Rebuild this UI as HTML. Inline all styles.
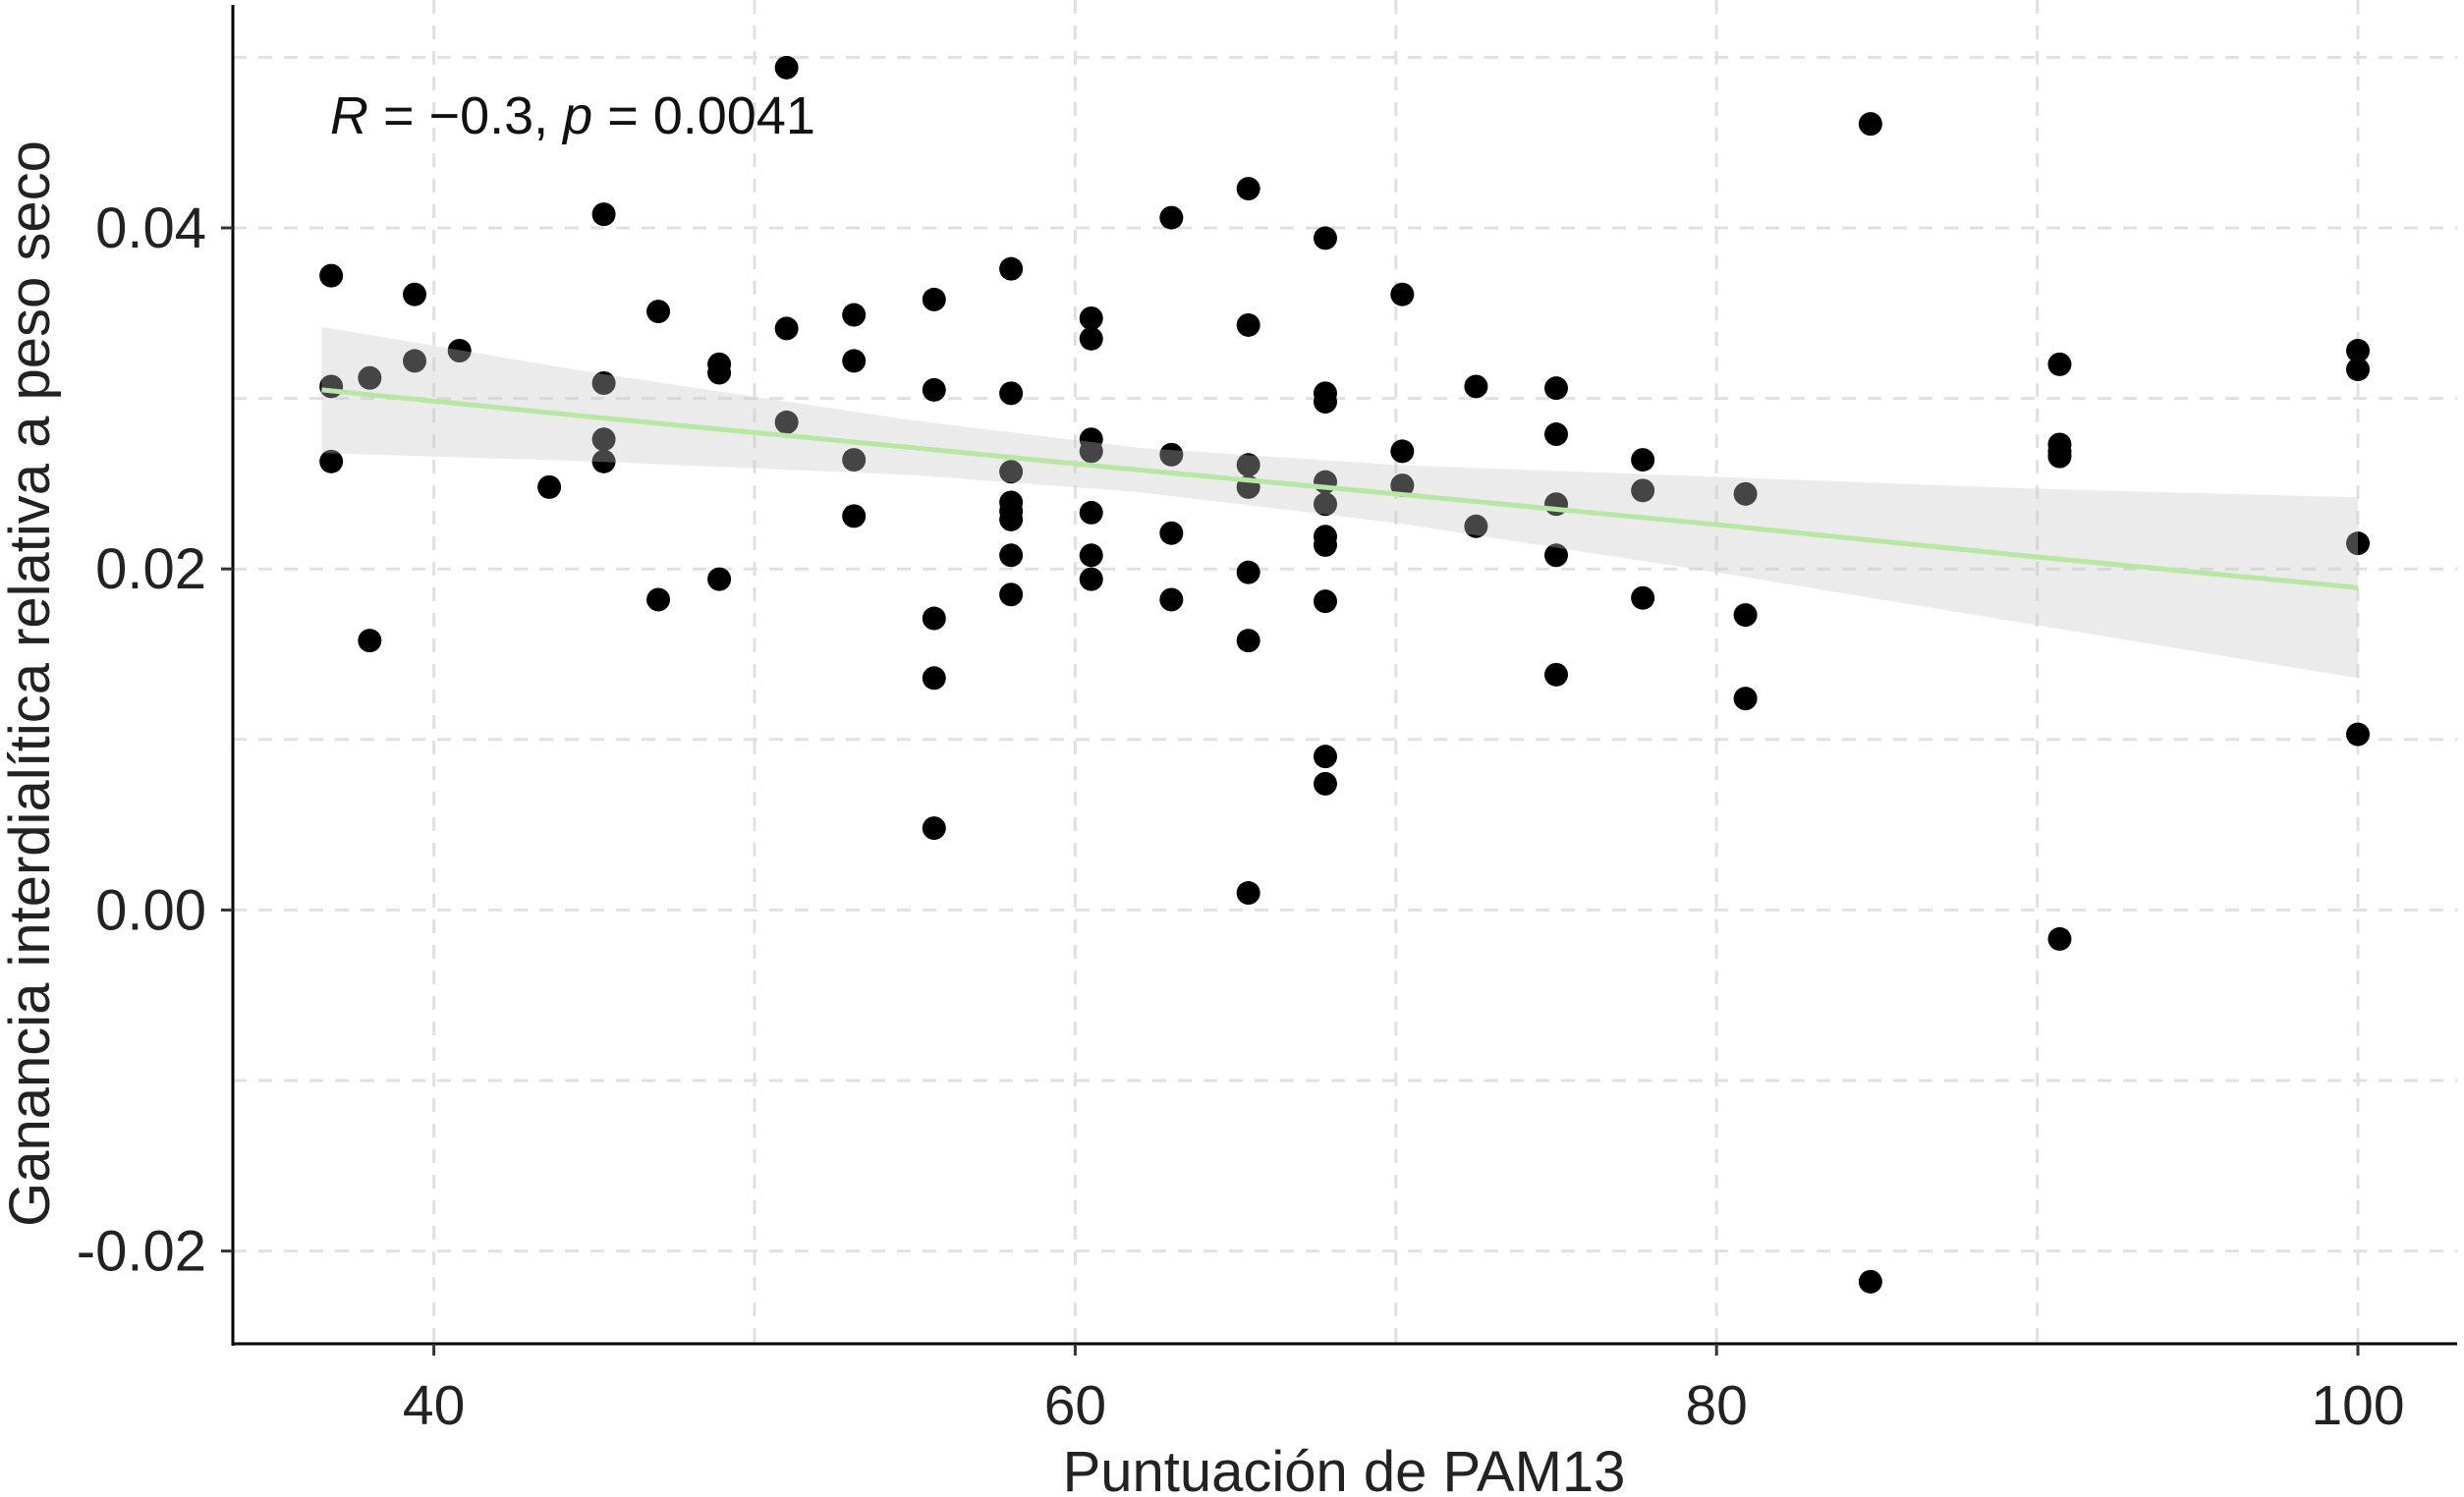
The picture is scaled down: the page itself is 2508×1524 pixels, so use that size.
<!DOCTYPE html>
<html><head><meta charset="utf-8"><style>
html,body{margin:0;padding:0;background:#fff;}
svg{display:block;font-family:"Liberation Sans",sans-serif;}
</style></head><body>
<svg id="chart" width="2508" height="1524" viewBox="0 0 2508 1524" xmlns="http://www.w3.org/2000/svg">
<g id="grid"></g>
<g id="points"></g>
<g id="fit"></g>
<g id="axes"></g>
<text x="336" y="136" font-size="54" fill="#111"><tspan font-style="italic">R</tspan> = −0.3, <tspan font-style="italic">p</tspan> = 0.0041</text>
<text x="1368" y="1518" font-size="58" text-anchor="middle" fill="#222">Puntuación de PAM13</text>
<text transform="translate(50,696) rotate(-90)" font-size="58" text-anchor="middle" fill="#222">Ganancia interdialítica relativa a peso seco</text>
</svg>
<script>
const xVals=[36.8,36.8,36.8,38,38,39.4,39.4,40.8,43.6,45.3,45.3,45.3,45.3,47,47,48.9,48.9,48.9,51,51,51,53.1,53.1,53.1,53.1,55.6,55.6,55.6,55.6,55.6,58,58,58,58,58,58,58,58,60.5,60.5,60.5,60.5,60.5,60.5,60.5,63,63,63,63,65.4,65.4,65.4,65.4,65.4,65.4,65.4,67.8,67.8,67.8,67.8,67.8,67.8,67.8,67.8,67.8,67.8,70.2,70.2,70.2,72.5,72.5,75,75,75,75,75,77.7,77.7,77.7,80.9,80.9,80.9,84.8,84.8,90.7,90.7,90.7,90.7,90.7,100,100,100,100];
const yVals=[.0372,.0307,.0263,.0312,.0158,.0361,.0322,.0328,.0248,.0408,.0309,.0276,.0263,.0351,.0182,.0320,.0315,.0194,.0494,.0341,.0286,.0349,.0322,.0264,.0231,.0358,.0305,.0171,.0136,.0048,.0376,.0303,.0257,.0239,.0234,.0229,.0208,.0185,.0347,.0335,.0276,.0269,.0233,.0208,.0194,.0406,.0267,.0221,.0182,.0423,.0343,.0261,.0248,.0198,.0158,.0010,.0394,.0303,.0298,.0251,.0238,.0219,.0214,.0181,.0090,.0074,.0361,.0269,.0249,.0307,.0225,.0306,.0279,.0238,.0208,.0138,.0264,.0246,.0183,.0244,.0173,.0124,.0461,-.0218,.0320,.0273,.0269,.0266,-.0017,.0328,.0317,.0215,.0103];
const fitX=[36.5,45,55,62,70,80,90,100];
const fitY=[.0305,.0289,.0271,.0258,.0244,.0226,.0207,.0189];
const fitUpper=[.0342,.0315,.0287,.0271,.0261,.0254,.0247,.0242];
const fitLower=[.0268,.0263,.0255,.0245,.0227,.0198,.0167,.0136];
const xTicks=[40,60,80,100];
const xMinor=[50,70,90];
const yTicks=[-0.02,0,0.02,0.04];
const yTickLabels=["-0.02","0.00","0.02","0.04"];
const yMinor=[-0.01,0.01,0.03,0.05];

const NS="http://www.w3.org/2000/svg";
const L=237,R=2501,T=0,B=1368;
function sx(v){return 441.6+(v-40)*32.64;}
function sy(v){return 926.4-v*17360;}
function mk(tag,attrs,parent){const e=document.createElementNS(NS,tag);for(const k in attrs)e.setAttribute(k,attrs[k]);parent.appendChild(e);return e;}
const grid=document.getElementById('grid');
xTicks.concat(xMinor).forEach(v=>{
  const l=mk('line',{x1:sx(v),x2:sx(v),y1:T,y2:B,stroke:'#e0e0e0','stroke-width':3,'stroke-dasharray':'14 12'},grid);
  
  
});
yTicks.concat(yMinor).forEach(v=>{
  const l=mk('line',{x1:L,x2:R,y1:sy(v),y2:sy(v),stroke:'#e0e0e0','stroke-width':3,'stroke-dasharray':'14 12'},grid);
  
  
});
const pts=document.getElementById('points');
xVals.forEach((x,i)=>{
  const c=mk('circle',{cx:sx(x),cy:sy(yVals[i]),r:12,fill:'#000'},pts);
  
  
});
const fit=document.getElementById('fit');
let d='M'+fitX.map((x,i)=>sx(x)+','+sy(fitUpper[i])).join(' L');
for(let i=fitX.length-1;i>=0;i--)d+=' L'+sx(fitX[i])+','+sy(fitLower[i]);
d+=' Z';
const rib=mk('path',{d:d,fill:'rgb(197,197,197)','fill-opacity':0.35},fit);


const ln=mk('polyline',{points:fitX.map((x,i)=>sx(x)+','+sy(fitY[i])).join(' '),fill:'none',stroke:'#b5e8a0','stroke-width':5},fit);


const ax=document.getElementById('axes');
const ya=mk('line',{x1:L,x2:L,y1:5,y2:B+2,stroke:'#000','stroke-width':3},ax);


const xa=mk('line',{x1:L-1,x2:R,y1:B,y2:B,stroke:'#000','stroke-width':3},ax);


xTicks.forEach(v=>{
  const t=mk('line',{x1:sx(v),x2:sx(v),y1:B,y2:B+12,stroke:'#333','stroke-width':3},ax);
  
  
  const tx=mk('text',{x:sx(v),y:1450,'font-size':57,'text-anchor':'middle',fill:'#222'},ax);
  tx.textContent=String(v);
  
  
});
yTicks.forEach((v,i)=>{
  const t=mk('line',{x1:L-12,x2:L,y1:sy(v),y2:sy(v),stroke:'#333','stroke-width':3},ax);
  
  
  const tx=mk('text',{x:210,y:sy(v)+20,'font-size':58,'text-anchor':'end',fill:'#222'},ax);
  tx.textContent=yTickLabels[i];
  
  
});
</script>
</body></html>
